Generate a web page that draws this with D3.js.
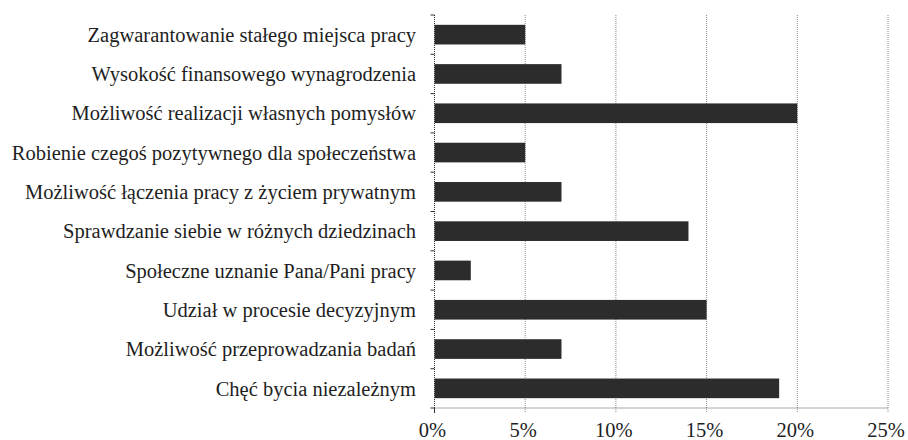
<!DOCTYPE html>
<html>
<head>
<meta charset="utf-8">
<script src="https://cdn.jsdelivr.net/npm/d3@7"></script>
<style>
    body { margin: 0; background: #fff; }
</style>
</head>
<body>
<div id="chart"></div>
<script>

// categories, top to bottom
let categories = [
    "Zagwarantowanie stałego miejsca pracy",
    "Wysokość finansowego wynagrodzenia",
    "Możliwość realizacji własnych pomysłów",
    "Robienie czegoś pozytywnego dla społeczeństwa",
    "Możliwość łączenia pracy z życiem prywatnym",
    "Sprawdzanie siebie w różnych dziedzinach",
    "Społeczne uznanie Pana/Pani pracy",
    "Udział w procesie decyzyjnym",
    "Możliwość przeprowadzania badań",
    "Chęć bycia niezależnym"
];

// share of answers, in %
let values = [5, 7, 20, 5, 7, 14, 2, 15, 7, 19];

let tickValues = [0, 5, 10, 15, 20, 25];

let width = 908, height = 440;
let margin = {top: 15, right: 20, bottom: 32, left: 434.5};
let fontFamily = "'Liberation Serif', 'Times New Roman', Times, 'DejaVu Serif', serif";

let svg = d3.select("#chart").append("svg")
    .attr("width", width)
    .attr("height", height);

let x = d3.scaleLinear()
    .domain([0, 25])
    .range([margin.left, width - margin.right]);

let y = d3.scaleBand()
    .domain(categories)
    .range([margin.top, height - margin.bottom])
    .paddingInner(0.5)
    .paddingOuter(0.25);

let plotBottom = height - margin.bottom;

// vertical grid lines
svg.append("g")
    .selectAll("line")
    .data(tickValues.slice(1))
    .enter()
    .append("line")
    .attr("x1", d => x(d))
    .attr("x2", d => x(d))
    .attr("y1", margin.top)
    .attr("y2", plotBottom + 5)
    .attr("stroke", "#8a8a8a")
    .attr("stroke-width", 1)
    .attr("stroke-dasharray", "1,1");

// bars
svg.append("g")
    .selectAll("rect")
    .data(values)
    .enter()
    .append("rect")
    .attr("x", x(0))
    .attr("y", (d, i) => y(categories[i]))
    .attr("width", d => x(d) - x(0))
    .attr("height", y.bandwidth())
    .attr("fill", "#2c2c2c");

// y axis line + ticks at band boundaries
let boundaries = d3.range(categories.length + 1).map(i => margin.top + i * (plotBottom - margin.top) / categories.length);

svg.append("line")
    .attr("x1", x(0)).attr("x2", x(0))
    .attr("y1", margin.top).attr("y2", plotBottom)
    .attr("stroke", "#333")
    .attr("stroke-dasharray", "1,1");

svg.append("g")
    .selectAll("line")
    .data(boundaries)
    .enter()
    .append("line")
    .attr("x1", x(0) - 4)
    .attr("x2", x(0))
    .attr("y1", d => d)
    .attr("y2", d => d)
    .attr("stroke", "#333");

// x axis line
svg.append("line")
    .attr("x1", x(0)).attr("x2", x(25))
    .attr("y1", plotBottom).attr("y2", plotBottom)
    .attr("stroke", "#555")
    .attr("stroke-dasharray", "1,1");

svg.append("line")
    .attr("x1", x(0)).attr("x2", x(0))
    .attr("y1", plotBottom).attr("y2", plotBottom + 5)
    .attr("stroke", "#333");

// category labels
svg.append("g")
    .selectAll("text")
    .data(categories)
    .enter()
    .append("text")
    .attr("x", 416)
    .attr("y", d => y(d) + y.bandwidth() / 2)
    .attr("dy", "0.35em")
    .attr("text-anchor", "end")
    .attr("font-family", fontFamily)
    .attr("font-size", 20.5)
    .attr("fill", "#1e1e1e")
    .text(d => d);

// tick labels
svg.append("g")
    .selectAll("text")
    .data(tickValues)
    .enter()
    .append("text")
    .attr("x", d => x(d) - 2)
    .attr("y", plotBottom + 29)
    .attr("text-anchor", "middle")
    .attr("font-family", fontFamily)
    .attr("font-size", 20.5)
    .attr("fill", "#1e1e1e")
    .text(d => d + "%");

</script>
</body>
</html>
